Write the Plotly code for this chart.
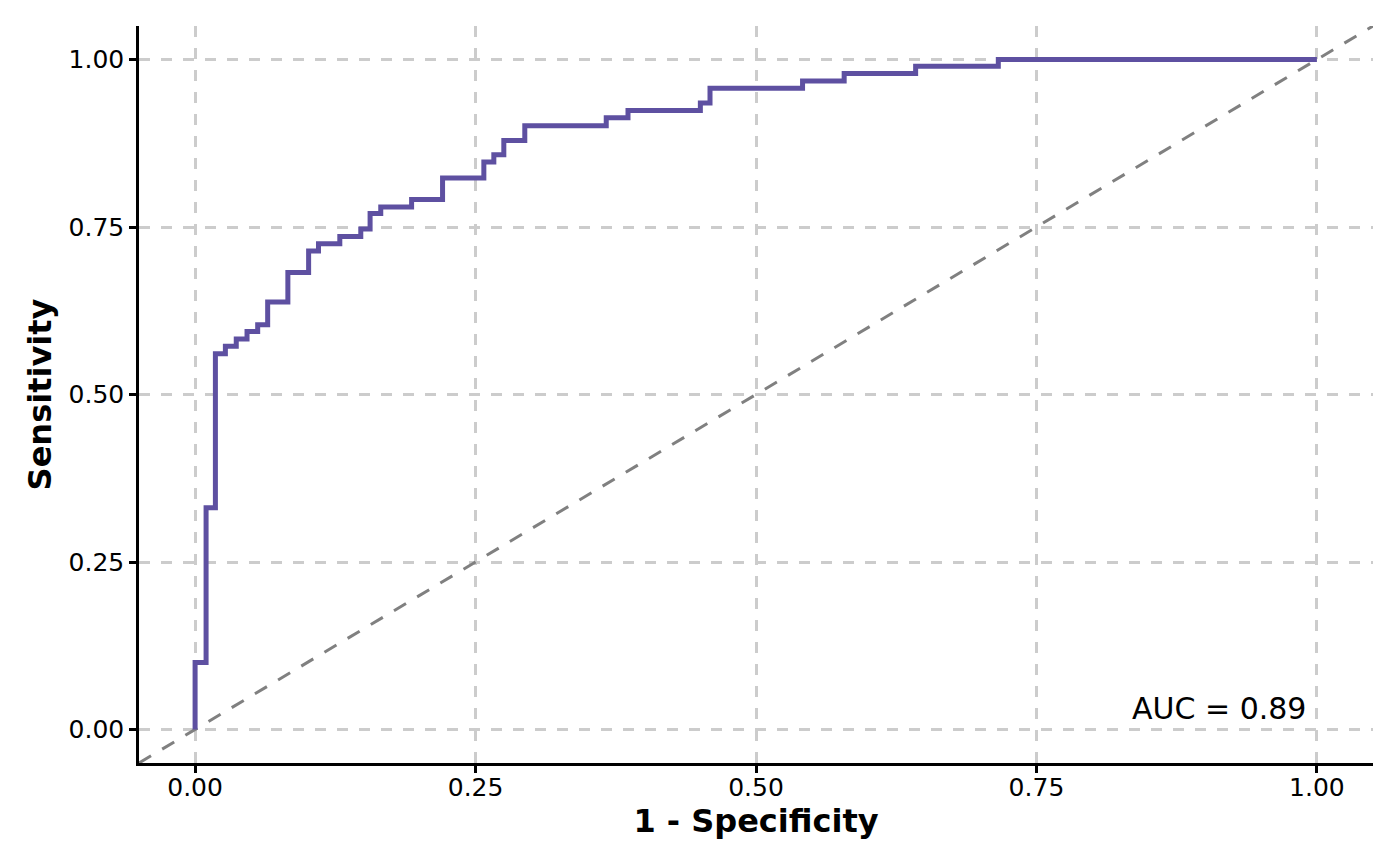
import plotly.graph_objects as go

# ROC curve step points (1 - specificity, sensitivity)
fpr = [0.0, 0.0, 0.0098, 0.0181, 0.0270, 0.0367, 0.0463, 0.0558, 0.0647, 0.0827,
       0.1012, 0.1100, 0.1290, 0.1477, 0.1560, 0.1655, 0.1930, 0.2206, 0.2574,
       0.2663, 0.2752, 0.2939, 0.3665, 0.3859, 0.4504, 0.4590, 0.5415, 0.5786,
       0.6423, 0.7160, 1.0]
tpr = [0.0, 0.100, 0.331, 0.561, 0.572, 0.583, 0.594, 0.604, 0.638, 0.682,
       0.714, 0.725, 0.736, 0.747, 0.770, 0.780, 0.791, 0.823, 0.847,
       0.858, 0.879, 0.901, 0.913, 0.924, 0.935, 0.957, 0.968, 0.979,
       0.990, 1.0, 1.0]

diag = [-0.05, 1.05]
tick_vals = [0.0, 0.25, 0.5, 0.75, 1.0]
tick_text = ["0.00", "0.25", "0.50", "0.75", "1.00"]
auc_label = "AUC = 0.89"

FONT = "DejaVu Sans"

fig = go.Figure()
fig.add_trace(go.Scatter(x=diag, y=diag, mode="lines",
                         line=dict(color="#808080", width=3, dash="14px,13px"),
                         hoverinfo="skip", showlegend=False))
fig.add_trace(go.Scatter(x=fpr, y=tpr, mode="lines", line_shape="hv",
                         line=dict(color="#5E50A1", width=5),
                         showlegend=False))

fig.add_annotation(x=0.913, y=0.032, text=auc_label, showarrow=False,
                   xanchor="center", yanchor="middle",
                   font=dict(family=FONT, size=30, color="black"))

axis_common = dict(
    tickvals=tick_vals, ticktext=tick_text,
    showline=True, linecolor="black", linewidth=2.5,
    ticks="outside", ticklen=7, tickwidth=2.5, tickcolor="black",
    showgrid=True, gridcolor="#CCCCCC", gridwidth=2.5, griddash="11px,11px",
    zeroline=False, mirror=False,
    tickfont=dict(family=FONT, size=25, color="black"),
    range=[-0.05, 1.05],
)

fig.update_layout(
    width=1400, height=866,
    margin=dict(l=131, r=35, t=18, b=111),
    paper_bgcolor="white", plot_bgcolor="white",
    font=dict(family=FONT, color="black"),
    xaxis=dict(**axis_common, ticklabelstandoff=-7,
               title=dict(text="<b>1 - Specificity</b>", standoff=8,
                          font=dict(family=FONT, size=32, color="black"))),
    yaxis=dict(**axis_common,
               title=dict(text="<b>Sensitivity</b>", standoff=8,
                          font=dict(family=FONT, size=32, color="black"))),
)

fig.write_html("out.html")
